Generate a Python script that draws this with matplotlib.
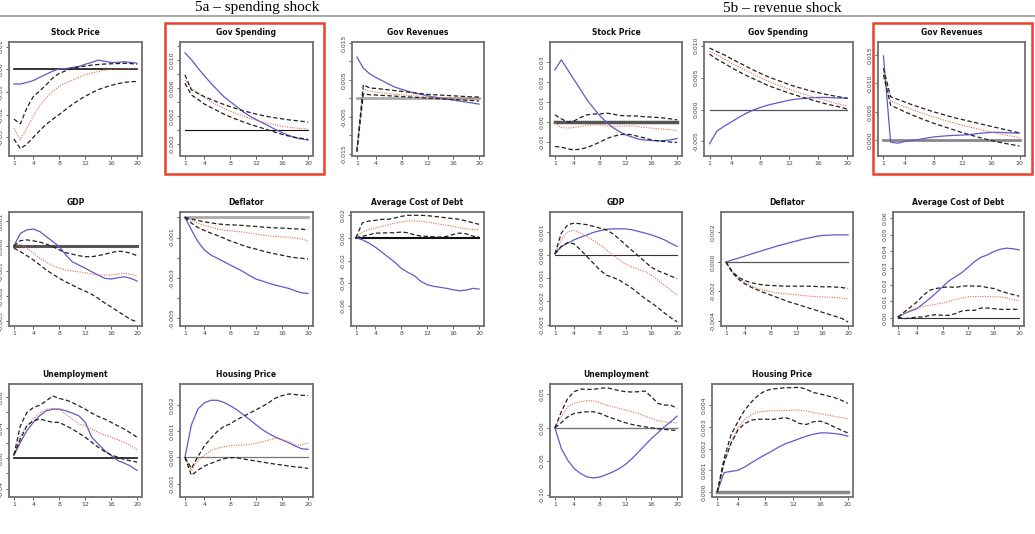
import numpy as np
import matplotlib.pyplot as plt
from matplotlib.lines import Line2D
from matplotlib.patches import Rectangle

W, H = 1035, 534
steps = np.arange(1, 21)
xticks = [1, 4, 8, 12, 16, 20]

# each panel: [blue response, upper band, red median, lower band]
# 5a - spending shock
a_stock = [
    [-0.0065, -0.0065, -0.0058, -0.005, -0.0035, -0.0022, -0.0008, 0.0002, 0.0003, 0.0008,
     0.0012, 0.0022, 0.003, 0.004, 0.0035, 0.003, 0.003, 0.0033, 0.003, 0.0027],
    [-0.022, -0.024, -0.017, -0.012, -0.0095, -0.0068, -0.0038, -0.0018, -0.0007, 0.0004,
     0.001, 0.0014, 0.0018, 0.0021, 0.0023, 0.0024, 0.0025, 0.0026, 0.0025, 0.0022],
    [-0.026, -0.031, -0.026, -0.0206, -0.016, -0.0126, -0.0097, -0.0075, -0.006, -0.0049,
     -0.0036, -0.0025, -0.0017, -0.001, -0.0004, 0.0, 0.0002, 0.0002, 0.0003, 0.0004],
    [-0.0307, -0.035, -0.033, -0.030, -0.027, -0.0242, -0.022, -0.0199, -0.0177, -0.0155,
     -0.0136, -0.0119, -0.0104, -0.009, -0.008, -0.0071, -0.0064, -0.0058, -0.0055, -0.0054],
]
a_gov_sp = [
    [0.01104, 0.01007, 0.00887, 0.00776, 0.0067, 0.00573, 0.00477, 0.00405, 0.00333, 0.0026,
     0.00198, 0.0015, 0.00101, 0.00053, 0.00005, -0.00039, -0.00077, -0.00111, -0.0013, -0.00145],
    [0.0079, 0.00573, 0.00525, 0.00477, 0.00439, 0.004, 0.00366, 0.00333, 0.00304, 0.00275,
     0.00251, 0.00227, 0.00207, 0.00188, 0.00173, 0.00159, 0.00145, 0.00135, 0.00125, 0.00111],
    [0.00718, 0.00598, 0.00525, 0.00463, 0.00405, 0.00357, 0.00308, 0.0027, 0.00231, 0.00198,
     0.00164, 0.0014, 0.00111, 0.00092, 0.00072, 0.00053, 0.00039, 0.00029, 0.00019, 0.00014],
    [0.0067, 0.00501, 0.00439, 0.00371, 0.00323, 0.00275, 0.00227, 0.00188, 0.0015, 0.00116,
     0.00082, 0.00053, 0.00024, -0.00005, -0.00034, -0.00063, -0.00087, -0.00106, -0.0012, -0.00135],
]
a_gov_rev = [
    [0.0112, 0.0082, 0.00664, 0.00564, 0.00473, 0.00382, 0.003, 0.00245, 0.00191, 0.00145,
     0.00109, 0.00073, 0.00036, 0.00009, -0.00018, -0.00045, -0.00073, -0.001, -0.00127, -0.00155],
    [-0.0142, 0.0037, 0.0028, 0.0027, 0.0025, 0.0023, 0.0021, 0.0019, 0.0017, 0.0015,
     0.0013, 0.0011, 0.001, 0.0009, 0.0008, 0.0007, 0.0006, 0.0005, 0.0004, 0.0004],
    [-0.0135, 0.0025, 0.002, 0.0017, 0.0015, 0.0013, 0.0011, 0.001, 0.0008, 0.0007,
     0.0006, 0.0005, 0.0004, 0.0003, 0.0002, 0.0001, 0.0001, 0.0, 0.0, 0.0],
    [-0.0145, 0.0012, 0.001, 0.0009, 0.0008, 0.0007, 0.0006, 0.0005, 0.0004, 0.0003,
     0.0002, 0.0001, 0.0, -0.0001, -0.0002, -0.0003, -0.0004, -0.0005, -0.0006, -0.0007],
]
a_gdp = [
    [0.0, 0.0005, 0.00064, 0.00067, 0.00057, 0.00037, 0.00017, -0.00003, -0.00036, -0.00063,
     -0.00076, -0.00089, -0.00103, -0.00116, -0.00129, -0.00132, -0.00127, -0.00123, -0.00129, -0.0014],
    [0.0, 0.00021, 0.00024, 0.0002, 0.00015, 0.00007, -0.00003, -0.00016, -0.00027, -0.00033,
     -0.00039, -0.00043, -0.00043, -0.00039, -0.00033, -0.00027, -0.00021, -0.00023, -0.00029, -0.00039],
    [0.00004, 0.00007, -0.00009, -0.00029, -0.00049, -0.00065, -0.00079, -0.00089, -0.00096, -0.001,
     -0.00103, -0.00107, -0.00112, -0.00116, -0.00116, -0.00116, -0.00112, -0.00109, -0.00113, -0.00119],
    [-0.00009, -0.00023, -0.00039, -0.00056, -0.00076, -0.00096, -0.00113, -0.00129, -0.00143, -0.00156,
     -0.00169, -0.0018, -0.00193, -0.00209, -0.00227, -0.00243, -0.0026, -0.00276, -0.00293, -0.00303],
]
a_defl = [
    [0.0, -0.00062, -0.0012, -0.00162, -0.00187, -0.00203, -0.0022, -0.00237, -0.00253, -0.0027,
     -0.0029, -0.00307, -0.00317, -0.00328, -0.00337, -0.00345, -0.00353, -0.00365, -0.00375, -0.00378],
    [0.0, -0.00008, -0.00015, -0.00022, -0.00027, -0.00032, -0.00035, -0.00037, -0.00038, -0.0004,
     -0.00043, -0.00045, -0.00048, -0.0005, -0.00052, -0.00053, -0.00055, -0.00057, -0.00058, -0.00062],
    [0.0, -0.00015, -0.00028, -0.0004, -0.00048, -0.00057, -0.00063, -0.00067, -0.0007, -0.00073,
     -0.00078, -0.00083, -0.00088, -0.00092, -0.00095, -0.00097, -0.00098, -0.00102, -0.00107, -0.00117],
    [0.0, -0.00028, -0.0005, -0.00065, -0.00078, -0.0009, -0.00103, -0.00117, -0.00128, -0.0014,
     -0.0015, -0.00158, -0.00167, -0.00175, -0.00182, -0.00188, -0.00195, -0.002, -0.00203, -0.00207],
]
a_debt = [
    [0.0, -0.00176, -0.0047, -0.00824, -0.0126, -0.0171, -0.0215, -0.0268, -0.0303, -0.0332,
     -0.0382, -0.0412, -0.0426, -0.0435, -0.0444, -0.0456, -0.0465, -0.0459, -0.0444, -0.045],
    [0.0, 0.0132, 0.0147, 0.0153, 0.0162, 0.0162, 0.0174, 0.0188, 0.0197, 0.0197,
     0.0197, 0.0194, 0.0188, 0.0182, 0.0174, 0.0168, 0.0162, 0.0147, 0.0132, 0.0118],
    [0.0006, 0.005, 0.0071, 0.0085, 0.01, 0.0115, 0.0129, 0.0138, 0.0147, 0.0147,
     0.0144, 0.0138, 0.0129, 0.0118, 0.0109, 0.01, 0.0088, 0.0079, 0.0074, 0.0071],
    [0.0, 0.0012, 0.0026, 0.0041, 0.0041, 0.0044, 0.0044, 0.005, 0.0044, 0.0026,
     0.0015, 0.0012, 0.0009, 0.0006, 0.0012, 0.0029, 0.0041, 0.0035, 0.0015, 0.0006],
]
a_unemp = [
    [0.0035, 0.0209, 0.0361, 0.047, 0.0557, 0.0622, 0.0643, 0.0643, 0.0622, 0.0591,
     0.0557, 0.047, 0.0274, 0.0187, 0.01, 0.0035, -0.003, -0.0065, -0.0104, -0.0161],
    [0.0043, 0.0426, 0.06, 0.0665, 0.0696, 0.0752, 0.0817, 0.0783, 0.0765, 0.073,
     0.0687, 0.0643, 0.0591, 0.0548, 0.0513, 0.047, 0.0426, 0.0383, 0.033, 0.0274],
    [0.0035, 0.0296, 0.0426, 0.0513, 0.0591, 0.0643, 0.0652, 0.0643, 0.0578, 0.0513,
     0.0448, 0.0426, 0.0383, 0.0339, 0.0304, 0.0274, 0.0243, 0.0209, 0.0165, 0.0113],
    [0.0043, 0.0252, 0.0426, 0.0491, 0.0513, 0.0491, 0.047, 0.047, 0.0426, 0.0383,
     0.033, 0.0274, 0.0209, 0.0143, 0.0087, 0.0043, 0.0013, -0.0017, -0.0035, -0.0052],
]
a_house = [
    [0.0, 0.00124, 0.00185, 0.00208, 0.00218, 0.00218, 0.0021, 0.00197, 0.00182, 0.00163,
     0.00144, 0.00124, 0.00105, 0.0009, 0.00077, 0.00067, 0.00056, 0.00044, 0.00033, 0.00031],
    [0.0, -0.00042, 0.00003, 0.00044, 0.00073, 0.00099, 0.00118, 0.00128, 0.00144, 0.00156,
     0.00169, 0.00182, 0.00195, 0.0021, 0.00227, 0.00236, 0.00242, 0.0024, 0.00237, 0.00236],
    [0.0, -0.00049, -0.0001, 0.00009, 0.00026, 0.00035, 0.00041, 0.00045, 0.00047, 0.00047,
     0.0005, 0.00054, 0.0006, 0.00067, 0.00073, 0.00067, 0.0006, 0.00047, 0.00047, 0.00056],
    [0.0, -0.00068, -0.00049, -0.00033, -0.00023, -0.00013, -0.00005, -0.00001, -0.00001, -0.00006,
     -0.0001, -0.00014, -0.00018, -0.00022, -0.00026, -0.00029, -0.00033, -0.00036, -0.00038, -0.00042],
]

# 5b - revenue shock
b_stock = [
    [0.0263, 0.0313, 0.0263, 0.0213, 0.0163, 0.0113, 0.0072, 0.0033, 0.0002, -0.0025,
     -0.0045, -0.0062, -0.0073, -0.0083, -0.0088, -0.009, -0.0092, -0.009, -0.0087, -0.008],
    [0.0038, 0.0018, 0.0002, 0.0008, 0.0025, 0.0038, 0.0042, 0.0042, 0.0047, 0.0042,
     0.0035, 0.0033, 0.0033, 0.0032, 0.0028, 0.0027, 0.0025, 0.0022, 0.0018, 0.0013],
    [-0.0003, -0.0025, -0.0028, -0.0025, -0.002, -0.0015, -0.0012, -0.0012, -0.0015, -0.002,
     -0.0018, -0.0017, -0.0017, -0.002, -0.0025, -0.0028, -0.0032, -0.0033, -0.0037, -0.004],
    [-0.012, -0.0123, -0.0132, -0.0137, -0.0133, -0.0125, -0.0112, -0.0098, -0.0082, -0.007,
     -0.0062, -0.0058, -0.0062, -0.007, -0.0078, -0.0087, -0.0092, -0.0095, -0.0098, -0.01],
]
b_gov_sp = [
    [-0.00537, -0.0034, -0.00263, -0.00195, -0.00126, -0.00063, -0.0001, 0.00032, 0.00068, 0.00095,
     0.00121, 0.00147, 0.00163, 0.00174, 0.00184, 0.00189, 0.00189, 0.00184, 0.00179, 0.00179],
    [0.00963, 0.0091, 0.00858, 0.00795, 0.00737, 0.00679, 0.00621, 0.00568, 0.00516, 0.00474,
     0.00432, 0.00389, 0.00353, 0.00321, 0.00289, 0.00263, 0.00237, 0.00216, 0.00195, 0.00174],
    [0.0091, 0.00858, 0.00795, 0.00726, 0.00674, 0.00611, 0.00558, 0.005, 0.00447, 0.004,
     0.00358, 0.00316, 0.00279, 0.00242, 0.00205, 0.00174, 0.00142, 0.00111, 0.00079, 0.00053],
    [0.00868, 0.00789, 0.00726, 0.00658, 0.00595, 0.00537, 0.00484, 0.00432, 0.00379, 0.00337,
     0.00295, 0.00258, 0.00221, 0.00184, 0.00153, 0.00121, 0.00089, 0.00063, 0.00037, 0.00005],
]
b_gov_rev = [
    [0.0148, -0.0003, -0.0005, -0.0002, 0.0, 0.00018, 0.00041, 0.00059, 0.00071, 0.00082,
     0.00088, 0.00094, 0.001, 0.00118, 0.00129, 0.00141, 0.00141, 0.00135, 0.00129, 0.00129],
    [0.01265, 0.00765, 0.00718, 0.00671, 0.00624, 0.00582, 0.00541, 0.005, 0.00465, 0.00429,
     0.00394, 0.00365, 0.00335, 0.00306, 0.00276, 0.00247, 0.00218, 0.00188, 0.00159, 0.00129],
    [0.01206, 0.00694, 0.00635, 0.00588, 0.00541, 0.00494, 0.00453, 0.00412, 0.00371, 0.00335,
     0.003, 0.00265, 0.00235, 0.00206, 0.00176, 0.00147, 0.00118, 0.00094, 0.00071, 0.00047],
    [0.01147, 0.00618, 0.00559, 0.005, 0.00447, 0.00394, 0.00347, 0.003, 0.00259, 0.00218,
     0.00176, 0.00135, 0.001, 0.00065, 0.00029, 0.0, -0.00029, -0.00053, -0.00076, -0.001],
]
b_gdp = [
    [0.00006, 0.00038, 0.00052, 0.00067, 0.00078, 0.00088, 0.00099, 0.00106, 0.00112, 0.00114,
     0.00114, 0.00114, 0.0011, 0.00103, 0.00096, 0.00088, 0.00078, 0.00067, 0.00052, 0.00038],
    [0.00006, 0.00096, 0.00132, 0.00139, 0.00136, 0.00132, 0.00125, 0.00117, 0.0011, 0.00093,
     0.0007, 0.00045, 0.0002, -0.00003, -0.00028, -0.00052, -0.00067, -0.00078, -0.0009, -0.00101],
    [0.00006, 0.00067, 0.00103, 0.00107, 0.00096, 0.00081, 0.00064, 0.00045, 0.00023, 0.00001,
     -0.0002, -0.00038, -0.00052, -0.00061, -0.00071, -0.00086, -0.00107, -0.00129, -0.00151, -0.00172],
    [0.00006, 0.00038, 0.00055, 0.00049, 0.00023, -0.00006, -0.00035, -0.00064, -0.00086, -0.00096,
     -0.00107, -0.00125, -0.00143, -0.00165, -0.00187, -0.00206, -0.00226, -0.00249, -0.0027, -0.00288],
]
b_defl = [
    [0.0, 0.00014, 0.00027, 0.00041, 0.00055, 0.00068, 0.00082, 0.00095, 0.00109, 0.0012,
     0.00132, 0.00143, 0.00155, 0.00164, 0.00173, 0.0018, 0.00182, 0.00184, 0.00184, 0.00184],
    [0.0, -0.00066, -0.00105, -0.00127, -0.00141, -0.0015, -0.00157, -0.00159, -0.00161, -0.00164,
     -0.00164, -0.00164, -0.00164, -0.00164, -0.00166, -0.00168, -0.00168, -0.0017, -0.00173, -0.0018],
    [0.0, -0.00066, -0.00111, -0.00141, -0.00164, -0.0018, -0.00191, -0.00202, -0.00209, -0.00214,
     -0.00218, -0.00223, -0.00227, -0.00232, -0.00234, -0.00236, -0.00239, -0.00241, -0.00245, -0.00252],
    [0.0, -0.00073, -0.00118, -0.0015, -0.00173, -0.00191, -0.00209, -0.00225, -0.00241, -0.00257,
     -0.00273, -0.00286, -0.003, -0.00314, -0.00327, -0.00341, -0.00355, -0.00368, -0.00382, -0.00407],
]
b_debt = [
    [0.0006, 0.0026, 0.0042, 0.0056, 0.0087, 0.0117, 0.0151, 0.0187, 0.0223, 0.0247,
     0.0272, 0.0304, 0.0338, 0.0364, 0.0378, 0.0398, 0.0412, 0.0419, 0.0416, 0.0408],
    [0.0006, 0.0036, 0.0066, 0.0097, 0.0137, 0.0167, 0.0177, 0.0183, 0.0187, 0.0183,
     0.0191, 0.0193, 0.0191, 0.0191, 0.0183, 0.0177, 0.0163, 0.0151, 0.0141, 0.0131],
    [0.0006, 0.0026, 0.0046, 0.0062, 0.007, 0.0076, 0.0082, 0.0091, 0.0099, 0.0111,
     0.0119, 0.0127, 0.0129, 0.0129, 0.0129, 0.0127, 0.0127, 0.0121, 0.0111, 0.0103],
    [0.0006, -0.0004, 0.0, 0.0006, 0.0006, 0.0016, 0.002, 0.0016, 0.0016, 0.0026,
     0.0042, 0.0046, 0.0046, 0.006, 0.006, 0.0056, 0.0052, 0.0052, 0.0052, 0.0052],
]
b_unemp = [
    [0.0, -0.031, -0.0485, -0.061, -0.0685, -0.0735, -0.075, -0.0735, -0.07, -0.066,
     -0.061, -0.0545, -0.046, -0.036, -0.026, -0.016, -0.0075, 0.0015, 0.009, 0.0175],
    [0.0, 0.024, 0.044, 0.054, 0.058, 0.0575, 0.0575, 0.059, 0.06, 0.058,
     0.0555, 0.054, 0.0535, 0.054, 0.055, 0.0465, 0.0365, 0.034, 0.034, 0.029],
    [0.0, 0.0165, 0.0315, 0.0365, 0.039, 0.0405, 0.0405, 0.0375, 0.034, 0.0315,
     0.029, 0.0265, 0.024, 0.0215, 0.0175, 0.014, 0.0105, 0.009, 0.008, 0.0075],
    [0.0, 0.0075, 0.0165, 0.0215, 0.023, 0.024, 0.024, 0.0215, 0.0175, 0.014,
     0.0105, 0.0075, 0.005, 0.003, 0.0015, 0.0, -0.0015, -0.0025, -0.003, -0.0045],
]
b_house = [
    [0.0, 0.00089, 0.00095, 0.001, 0.00115, 0.00135, 0.00154, 0.00172, 0.00189, 0.00208,
     0.00223, 0.00234, 0.00246, 0.00257, 0.00266, 0.00272, 0.00272, 0.00269, 0.00265, 0.00257],
    [0.0, 0.00154, 0.00262, 0.00323, 0.00377, 0.00415, 0.00446, 0.00466, 0.00474, 0.00477,
     0.0048, 0.0048, 0.00482, 0.00472, 0.00458, 0.00451, 0.00443, 0.00435, 0.00423, 0.00408],
    [0.0, 0.00138, 0.00231, 0.00295, 0.00334, 0.00357, 0.00368, 0.00372, 0.00374, 0.00375,
     0.00375, 0.00377, 0.00377, 0.00372, 0.00366, 0.0036, 0.00354, 0.00349, 0.00343, 0.00338],
    [0.0, 0.00135, 0.00223, 0.00285, 0.00315, 0.00331, 0.00335, 0.00335, 0.00334, 0.00338,
     0.00342, 0.00331, 0.00315, 0.00311, 0.00323, 0.00326, 0.00315, 0.003, 0.00285, 0.00272],
]


def ticks(lo, hi, step, every=1):
    vals = np.round(np.arange(lo, hi + step / 2, step), 6)
    dec = max(0, -int(np.floor(np.log10(step))))
    labs = [f"{v:.{dec}f}" if i % every == 0 else "" for i, v in enumerate(vals)]
    return vals, labs


# title, data, frame px (x0, x1, y0, y1), ylim, y ticks, zero-line colour and width
panels = [
    ("Stock Price", a_stock, (9, 142, 42, 155.5), (-0.038, 0.012), ticks(-0.03, 0.01, 0.01), '#111111', 1.2),
    ("Gov Spending", a_gov_sp, (180, 313, 42, 155.5), (-0.00366, 0.0126), ticks(-0.002, 0.012, 0.002, 2), '#111111', 0.8),
    ("Gov Revenues", a_gov_rev, (352, 484, 42, 155.5), (-0.01545, 0.01527), ticks(-0.015, 0.015, 0.005, 2), '#aaaaaa', 2.0),
    ("GDP", a_gdp, (9, 142, 212, 326), (-0.00319, 0.00135), ticks(-0.003, 0.001, 0.001), '#555555', 2.2),
    ("Deflator", a_defl, (180, 313, 212, 326), (-0.0054, 0.00027), ticks(-0.005, 0.0, 0.001, 2), '#aaaaaa', 2.0),
    ("Average Cost of Debt", a_debt, (351, 484, 212, 326), (-0.0774, 0.0226), ticks(-0.06, 0.02, 0.02), '#111111', 1.5),
    ("Unemployment", a_unemp, (9, 142, 383.5, 497), (-0.051, 0.098), ticks(-0.04, 0.08, 0.02, 2), '#222222', 1.3),
    ("Housing Price", a_house, (180, 313, 383.5, 497), (-0.00151, 0.00282), ticks(-0.001, 0.002, 0.001), '#777777', 0.9),
    ("Stock Price", b_stock, (550, 682, 42, 155.5), (-0.0165, 0.0402), ticks(-0.01, 0.03, 0.01), '#555555', 2.5),
    ("Gov Spending", b_gov_sp, (704, 853, 42, 155.5), (-0.00721, 0.01058), ticks(-0.005, 0.010, 0.005), '#555555', 0.9),
    ("Gov Revenues", b_gov_rev, (878, 1025, 42, 155.5), (-0.00265, 0.01724), ticks(0.0, 0.015, 0.005), '#888888', 2.0),
    ("GDP", b_gdp, (550, 682, 212, 326), (-0.00306, 0.00187), ticks(-0.003, 0.001, 0.001), '#333333', 0.8),
    ("Deflator", b_defl, (721, 853, 212, 326), (-0.00434, 0.00339), ticks(-0.004, 0.002, 0.002), '#555555', 0.9),
    ("Average Cost of Debt", b_debt, (893, 1024, 212, 326), (-0.0048, 0.0636), ticks(0.0, 0.06, 0.01), '#333333', 0.8),
    ("Unemployment", b_unemp, (550, 682, 384, 497), (-0.1035, 0.0655), ticks(-0.10, 0.05, 0.05), '#777777', 1.0),
    ("Housing Price", b_house, (712, 853, 384, 497), (-0.00023, 0.00497), ticks(0.0, 0.004, 0.001), '#888888', 2.5),
]

fig = plt.figure(figsize=(W / 100, H / 100), dpi=100)
fig.patch.set_facecolor('white')

for title, data, (x0, x1, y0, y1), ylim, (yt, ytl), zc, zw in panels:
    ax = fig.add_axes([x0 / W, 1 - y1 / H, (x1 - x0) / W, (y1 - y0) / H])
    blue, upper, red, lower = data
    ax.plot(steps, np.zeros(len(steps)), color=zc, lw=zw, zorder=1)
    ax.plot(steps, blue, color='#5c5cc8', lw=0.9, zorder=3)
    ax.plot(steps, red, color='#e86a4a', lw=0.8, ls=(0, (1, 1.2)), zorder=3)
    ax.plot(steps, upper, color='#222222', lw=0.9, ls=(0, (3.5, 2)), zorder=4)
    ax.plot(steps, lower, color='#222222', lw=0.9, ls=(0, (3.5, 2)), zorder=4)
    ax.set_xlim(0.24, 20.76)
    ax.set_ylim(*ylim)
    ax.set_xticks(xticks)
    ax.set_yticks(yt)
    ax.set_yticklabels(ytl, rotation=90, va='center')
    ax.tick_params(labelsize=4.5, length=2.2, width=0.6, colors='#444444', pad=1.5)
    for s in ax.spines.values():
        s.set_color('#707070')
        s.set_linewidth(1.3)
    ax.set_title(title, fontsize=5.5, fontweight='bold', pad=5, color='#111111')

# section headings and rules
fig.text(257 / W, 1 - 8 / H, "5a \u2013 spending shock", ha='center', va='center',
         family='Liberation Serif', fontsize=11)
fig.text(782 / W, 1 - 8 / H, "5b \u2013 revenue shock", ha='center', va='center',
         family='Liberation Serif', fontsize=11)
fig.add_artist(Line2D([0, 1], [1 - 16 / H] * 2, color='#999999', lw=1.2))

# red highlight boxes
for bx0, bx1 in [(165, 324), (873, 1032)]:
    fig.add_artist(Rectangle((bx0 / W, 1 - 174 / H), (bx1 - bx0) / W, 151 / H,
                             fill=False, edgecolor='#e8432e', lw=1.8))

fig.savefig('out.png', dpi=100)
